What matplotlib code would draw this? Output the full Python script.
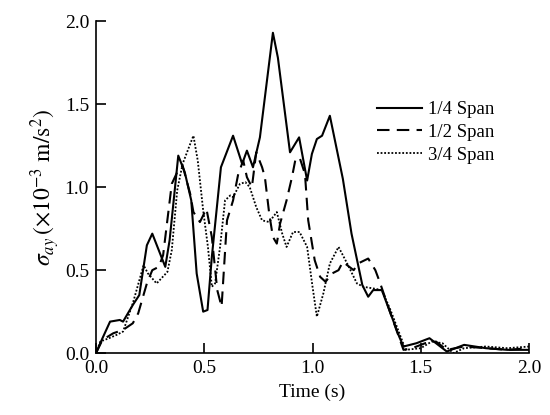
import matplotlib
matplotlib.use("Agg")
import matplotlib.pyplot as plt

# ------------------------------------------------------------
# Data
# ------------------------------------------------------------
t_quarter = [0.0, 0.03, 0.065, 0.11, 0.125, 0.17, 0.20, 0.235, 0.26, 0.29, 0.32,
             0.34, 0.38, 0.41, 0.44, 0.465, 0.495, 0.515, 0.535, 0.577, 0.633,
             0.675, 0.697, 0.725, 0.757, 0.817, 0.84, 0.896, 0.938, 0.975, 0.997,
             1.02, 1.044, 1.08, 1.14, 1.18, 1.23, 1.257, 1.28, 1.32, 1.36, 1.40,
             1.42, 1.48, 1.54, 1.58, 1.62, 1.70, 1.80, 1.90, 2.0]
y_quarter = [0.0, 0.09, 0.19, 0.20, 0.19, 0.29, 0.35, 0.65, 0.72, 0.62, 0.52,
             0.68, 1.19, 1.09, 0.92, 0.48, 0.25, 0.26, 0.58, 1.12, 1.31,
             1.14, 1.22, 1.12, 1.30, 1.93, 1.78, 1.21, 1.30, 1.04, 1.20,
             1.29, 1.31, 1.43, 1.05, 0.72, 0.41, 0.34, 0.38, 0.38, 0.24, 0.10,
             0.04, 0.06, 0.09, 0.05, 0.01, 0.05, 0.03, 0.02, 0.02]

t_half = [0.0, 0.03, 0.08, 0.125, 0.17, 0.195, 0.235, 0.26, 0.29, 0.31, 0.35,
          0.375, 0.40, 0.435, 0.45, 0.48, 0.51, 0.535, 0.56, 0.58, 0.605, 0.633,
          0.657, 0.68, 0.697, 0.72, 0.74, 0.767, 0.78, 0.80, 0.817, 0.835, 0.85,
          0.88, 0.905, 0.92, 0.94, 0.965, 0.98, 1.01, 1.035, 1.06, 1.09, 1.12,
          1.14, 1.19, 1.21, 1.257, 1.29, 1.31, 1.36, 1.42, 1.46, 1.52, 1.57,
          1.62, 1.70, 1.80, 1.90, 2.0]
y_half = [0.0, 0.08, 0.12, 0.14, 0.18, 0.24, 0.42, 0.50, 0.52, 0.59, 1.02,
          1.09, 1.13, 0.96, 0.85, 0.79, 0.87, 0.70, 0.38, 0.28, 0.80, 0.92,
          1.08, 1.16, 1.06, 1.00, 1.21, 1.12, 1.06, 0.84, 0.70, 0.66, 0.78,
          0.92, 1.06, 1.16, 1.18, 1.08, 0.80, 0.56, 0.46, 0.43, 0.48, 0.50,
          0.55, 0.50, 0.54, 0.57, 0.50, 0.43, 0.24, 0.02, 0.03, 0.06, 0.07,
          0.02, 0.04, 0.03, 0.02, 0.03]

t_three = [0.0, 0.02, 0.06, 0.095, 0.125, 0.17, 0.22, 0.24, 0.28, 0.33, 0.35,
           0.375, 0.40, 0.435, 0.45, 0.47, 0.495, 0.517, 0.535, 0.55, 0.573,
           0.596, 0.62, 0.633, 0.665, 0.69, 0.71, 0.74, 0.767, 0.80, 0.835,
           0.86, 0.88, 0.91, 0.94, 0.975, 1.0, 1.02, 1.05, 1.08, 1.12, 1.16,
           1.205, 1.235, 1.28, 1.32, 1.36, 1.43, 1.50, 1.55, 1.60, 1.65, 1.70,
           1.80, 1.90, 2.0]
y_three = [0.0, 0.07, 0.09, 0.11, 0.13, 0.30, 0.53, 0.48, 0.42, 0.49, 0.62,
           0.98, 1.14, 1.26, 1.31, 1.16, 0.86, 0.64, 0.40, 0.42, 0.64,
           0.92, 0.95, 0.94, 1.02, 1.03, 1.00, 0.88, 0.80, 0.79, 0.85,
           0.72, 0.64, 0.73, 0.73, 0.64, 0.40, 0.22, 0.36, 0.54, 0.64, 0.54,
           0.42, 0.40, 0.39, 0.38, 0.26, 0.02, 0.03, 0.07, 0.06, 0.0, 0.03,
           0.04, 0.03, 0.04]

labels = ["1/4 Span", "1/2 Span", "3/4 Span"]
x_ticks = [0.0, 0.5, 1.0, 1.5, 2.0]
y_ticks = [0.0, 0.5, 1.0, 1.5, 2.0]

# ------------------------------------------------------------
# Plot
# ------------------------------------------------------------
plt.rcParams["font.family"] = ["Liberation Serif", "DejaVu Serif"]
plt.rcParams["mathtext.fontset"] = "stix"
plt.rcParams["font.size"] = 14

fig = plt.figure(figsize=(5.5, 4.15), dpi=100)
ax = fig.add_axes([0.1745, 0.149, 0.7875, 0.80])

ax.plot(t_quarter, y_quarter, color="black", linewidth=1.5, linestyle="-", label=labels[0])
ax.plot(t_half, y_half, color="black", linewidth=1.5, linestyle=(0, (6, 3.5)), label=labels[1])
ax.plot(t_three, y_three, color="black", linewidth=1.3, linestyle=(0, (1, 1)), label=labels[2])

ax.set_xlim(0, 2.0)
ax.set_ylim(0, 2.0)
ax.set_xticks(x_ticks)
ax.set_yticks(y_ticks)
ax.set_xticklabels([f"{v:.1f}" for v in x_ticks])
ax.set_yticklabels([f"{v:.1f}" for v in y_ticks])
ax.tick_params(direction="in", length=7, width=1.2, labelsize=14, pad=5)

for side in ["top", "right"]:
    ax.spines[side].set_visible(False)
for side in ["left", "bottom"]:
    ax.spines[side].set_linewidth(1.2)

ax.set_xlabel("Time (s)", fontsize=14, labelpad=5)
ax.set_ylabel(r"$\sigma_{ay}\,(\times10^{-3}\ \mathrm{m/s}^{2})$", fontsize=17, labelpad=2)

ax.legend(loc="upper left", bbox_to_anchor=(0.61, 0.81), frameon=False,
          fontsize=13.5, handlelength=2.4, handletextpad=0.3, labelspacing=0.3)

fig.savefig("out.png", dpi=100)
